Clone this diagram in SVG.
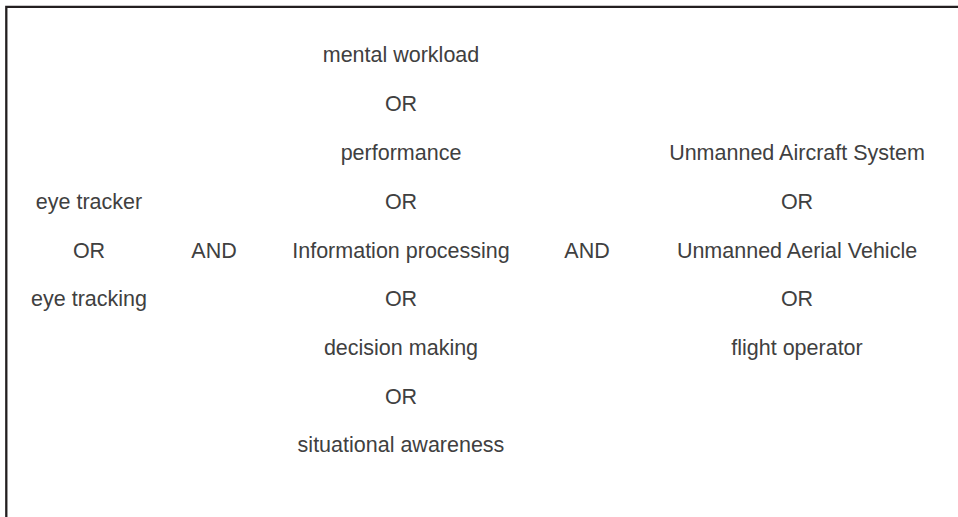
<svg xmlns="http://www.w3.org/2000/svg" width="958" height="517" viewBox="0 0 958 517">
<style>
.t{font-family:"Liberation Sans",Arial,sans-serif;font-size:21.5px;fill:#404040;text-anchor:middle}
</style>
<rect x="0" y="0" width="958" height="517" fill="#fff"/>
<path d="M6.3 520 V6.8 H960" fill="none" stroke="#231f20" stroke-width="2.3"/>
<g id="col1">
<text class="t" x="89" y="209">eye tracker</text>
<text class="t" x="89" y="258">OR</text>
<text class="t" x="89" y="306">eye tracking</text>
</g>
<g id="and1"><text class="t" x="214" y="258">AND</text></g>
<g id="col2">
<text class="t" x="401" y="62">mental workload</text>
<text class="t" x="401" y="111">OR</text>
<text class="t" x="401" y="160">performance</text>
<text class="t" x="401" y="209">OR</text>
<text class="t" x="401" y="258">Information processing</text>
<text class="t" x="401" y="306">OR</text>
<text class="t" x="401" y="355">decision making</text>
<text class="t" x="401" y="404">OR</text>
<text class="t" x="401" y="452">situational awareness</text>
</g>
<g id="and2"><text class="t" x="587" y="258">AND</text></g>
<g id="col3">
<text class="t" x="797" y="160">Unmanned Aircraft System</text>
<text class="t" x="797" y="209">OR</text>
<text class="t" x="797" y="258">Unmanned Aerial Vehicle</text>
<text class="t" x="797" y="306">OR</text>
<text class="t" x="797" y="355">flight operator</text>
</g>
<g id="connectors"/>
</svg>
